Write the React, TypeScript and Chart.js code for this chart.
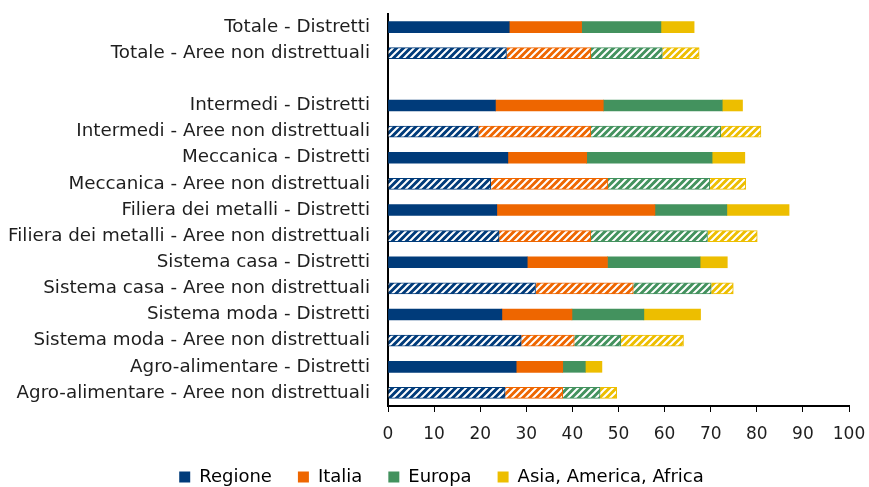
import React, { useEffect, useRef } from "react";
import { Chart, registerables } from "chart.js";

Chart.register(...registerables);

// Row labels (the empty entry is a spacer row between totals and sectors)
const categories = [
  "Totale - Distretti",
  "Totale - Aree non distrettuali",
  "",
  "Intermedi - Distretti",
  "Intermedi - Aree non distrettuali",
  "Meccanica - Distretti",
  "Meccanica - Aree non distrettuali",
  "Filiera dei metalli - Distretti",
  "Filiera dei metalli - Aree non distrettuali",
  "Sistema casa - Distretti",
  "Sistema casa - Aree non distrettuali",
  "Sistema moda - Distretti",
  "Sistema moda - Aree non distrettuali",
  "Agro-alimentare - Distretti",
  "Agro-alimentare - Aree non distrettuali",
];

const regione = [26.3, 25.7, null, 23.3, 19.6, 26.0, 22.3, 23.6, 24.1, 30.2, 32.0, 24.7, 28.9, 27.8, 25.4];
const italia = [15.7, 18.3, null, 23.4, 24.4, 17.1, 25.4, 34.3, 19.9, 17.4, 21.2, 15.2, 11.5, 10.1, 12.5];
const europa = [17.2, 15.5, null, 25.8, 28.2, 27.2, 22.1, 15.6, 25.3, 20.1, 16.9, 15.6, 10.1, 4.9, 8.1];
const asiaAmericaAfrica = [7.2, 8.0, null, 4.4, 8.7, 7.1, 7.8, 13.5, 10.8, 5.9, 4.8, 12.3, 13.6, 3.6, 3.6];

const seriesNames = ["Regione", "Italia", "Europa", "Asia, America, Africa"];
const seriesColors = ["#003b7a", "#ee6600", "#43925e", "#edbe00"];
const xTicks = [0, 10, 20, 30, 40, 50, 60, 70, 80, 90, 100];

const FONT = "'DejaVu Sans', sans-serif";

// Diagonal white stripes over the series colour, used for "Aree non distrettuali" rows
function makeStripes(color: string): CanvasPattern | string {
  const c = document.createElement("canvas");
  c.width = 7;
  c.height = 7;
  const g = c.getContext("2d");
  if (!g) return color;
  g.fillStyle = color;
  g.fillRect(0, 0, 7, 7);
  g.strokeStyle = "#ffffff";
  g.lineWidth = 2;
  g.beginPath();
  g.moveTo(-1, 8);
  g.lineTo(8, -1);
  g.moveTo(-8, 8);
  g.lineTo(1, -1);
  g.moveTo(6, 8);
  g.lineTo(15, -1);
  g.stroke();
  const p = g.createPattern(c, "repeat");
  return p || color;
}

// Nudges the bottom legend row to the right, under the plot area
const legendOffset = {
  id: "legendOffset",
  afterLayout(chart: any) {
    const lg = chart.legend;
    if (!lg) return;
    lg.left += 17;
    lg.right += 17;
  },
};

export default function App() {
  const ref = useRef<HTMLCanvasElement | null>(null);

  useEffect(() => {
    if (!ref.current) return;
    const hatched = categories.map((c) => c.includes("Aree non distrettuali"));
    const values = [regione, italia, europa, asiaAmericaAfrica];

    const datasets = values.map((data, i) => {
      const pattern = makeStripes(seriesColors[i]);
      return {
        label: seriesNames[i],
        data,
        backgroundColor: (ctx: any) => (hatched[ctx.dataIndex] ? pattern : seriesColors[i]),
        borderColor: seriesColors[i],
        borderWidth: (ctx: any) => (hatched[ctx.dataIndex] ? 1 : 0),
        barThickness: 11,
      };
    });

    const chart = new Chart(ref.current, {
      type: "bar",
      data: { labels: categories, datasets: datasets as any },
      plugins: [legendOffset],
      options: {
        indexAxis: "y",
        animation: false,
        responsive: false,
        layout: { padding: { top: 14, right: 20, left: 0, bottom: -9 } },
        scales: {
          x: {
            stacked: true,
            min: 0,
            max: 100,
            afterBuildTicks: (s: any) => {
              s.ticks = xTicks.map((v) => ({ value: v }));
            },
            afterFit: (s: any) => {
              s.height = 36;
              s.paddingLeft = 0;
              s.paddingRight = 0;
            },
            grid: {
              drawOnChartArea: false,
              drawTicks: true,
              tickLength: 6,
              color: "#000000",
            },
            border: { display: true, color: "#000000", width: 2 },
            ticks: { color: "#1e1e1e", font: { family: FONT, size: 17 }, padding: 12 },
          },
          y: {
            stacked: true,
            afterFit: (s: any) => {
              s.width = 388;
            },
            grid: { display: false, drawTicks: true, tickLength: 18, color: "rgba(0,0,0,0)" },
            border: { display: true, color: "#000000", width: 2 },
            ticks: { color: "#1e1e1e", font: { family: FONT, size: 18.3 }, padding: 0, autoSkip: false },
          },
        },
        plugins: {
          tooltip: { enabled: false },
          legend: {
            position: "bottom",
            labels: {
              font: { family: FONT, size: 18 },
              color: "#1e1e1e",
              boxWidth: 11,
              boxHeight: 11,
              padding: 26,
              generateLabels: () =>
                seriesNames.map((n, i) => ({
                  text: n,
                  fillStyle: seriesColors[i],
                  strokeStyle: seriesColors[i],
                  lineWidth: 0,
                  hidden: false,
                  datasetIndex: i,
                })),
            },
          },
        },
      },
    });
    return () => chart.destroy();
  }, []);

  return (
    <div style={{ position: "fixed", left: 0, top: 0, width: 869, height: 487, background: "#ffffff" }}>
      <canvas ref={ref} width={869} height={487} />
    </div>
  );
}
